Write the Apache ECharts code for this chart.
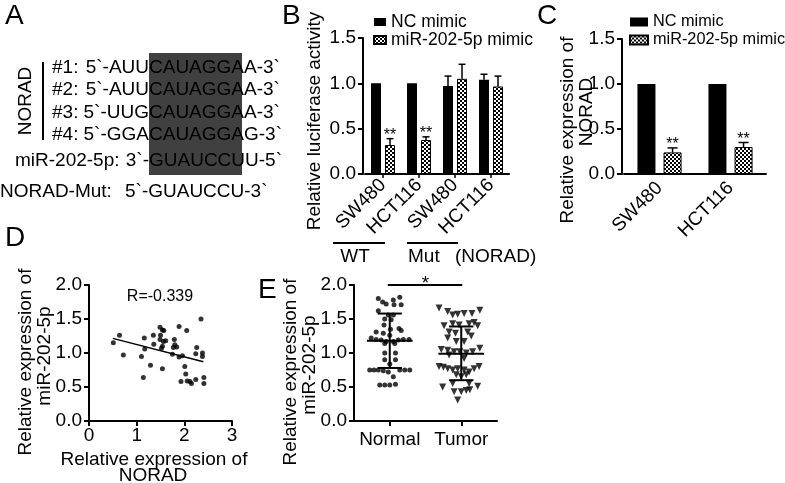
<!DOCTYPE html>
<html><head><meta charset="utf-8">
<script src="https://cdn.jsdelivr.net/npm/echarts@6/dist/echarts.min.js"></script>
<style>html,body{margin:0;padding:0;background:#fff}#c{width:785px;height:483px}</style>
</head><body><div id="c"></div>
<script>
// ---------------- DATA ----------------
// Panel A (sequence alignment)
const aRowLabels = ['#1:', '#2:', '#3:', '#4:', 'miR-202-5p:'];
const aSeqPre = ['5`-AUU', '5`-AUU', '5`-UUG', '5`-GGA', '3`-'];
const aSeqCore = ['CAUAGGA', 'CAUAGGA', 'CAUAGGA', 'CAUAGGA', 'GUAUCCU'];
const aSeqPost = ['A-3`', 'A-3`', 'A-3`', 'G-3`', 'U-5`'];
const aGroupLabel = 'NORAD';
const aMutLabel = 'NORAD-Mut:';
const aMutSeq = '5`-GUAUCCU-3`';

// Panel B (luciferase)
const bCategories = ['SW480', 'HCT116', 'SW480', 'HCT116'];
const bGroups = ['WT', 'Mut', '(NORAD)'];
const bNC = [1.0, 1.0, 0.97, 1.04];
const bNCErr = [0, 0, 0.11, 0.06];
const bMiR = [0.32, 0.375, 1.05, 0.965];
const bMiRErr = [0.07, 0.035, 0.16, 0.115];
const bSig = ['**', '**', '', ''];
const bYTicks = [0, 0.5, 1.0, 1.5];
const legendNames = ['NC mimic', 'miR-202-5p mimic'];

// Panel C (NORAD expression)
const cCategories = ['SW480', 'HCT116'];
const cNC = [1.0, 1.0];
const cMiR = [0.24, 0.30];
const cMiRErr = [0.05, 0.05];
const cSig = ['**', '**'];
const cYTicks = [0, 0.5, 1.0, 1.5];

// Panel D (correlation)
const dNORAD = [0.51,0.64,0.72,1.16,1.17,1.10,1.14,1.29,1.35,1.36,1.49,1.50,1.54,1.57,1.49,1.56,1.61,1.54,1.52,1.54,1.79,1.80,1.84,1.77,1.75,1.89,2.05,1.89,1.96,1.93,2.01,2.03,2.06,2.12,2.15,2.24,2.26,2.24,2.38,2.38,2.41,2.41,2.35];
const dMiR   = [1.15,1.26,0.97,1.22,1.06,0.95,0.64,0.82,1.26,1.13,1.38,1.26,1.34,1.33,1.20,1.17,1.18,1.10,1.07,0.77,1.20,1.12,1.09,1.08,0.98,1.39,1.33,0.94,0.96,0.58,0.80,0.69,0.59,0.58,0.55,0.61,1.08,0.99,1.00,0.95,0.64,0.55,1.50];
const dFitX = [0.5, 2.4];
const dFitY = [1.215, 0.87];
const dR = 'R=-0.339';
const dXTicks = [0, 1, 2, 3];
const dYTicks = [0, 0.5, 1.0, 1.5, 2.0];

// Panel E (dot plot)
const eCategories = ['Normal', 'Tumor'];
const eNormal = [1.80,1.75,1.72,1.78,1.82,1.71,1.71,1.62,1.56,1.56,1.50,1.49,1.41,1.35,1.36,1.33,1.31,1.29,1.26,1.22,1.20,1.19,1.17,1.17,1.19,1.20,1.20,1.14,1.14,1.00,1.00,0.90,0.90,0.84,0.75,0.75,0.75,0.74,0.72,0.75,0.75,0.75,0.65,0.53,0.53,0.53,0.54];
const eNormalSpread = [-0.16,-0.10,-0.05,0.05,0.14,0.16,0.06,-0.16,-0.02,0.05,-0.07,0.02,-0.08,0.01,0.13,0.16,-0.19,-0.09,0,-0.26,-0.19,-0.12,-0.05,0.05,0.12,0.19,0.27,-0.07,0.07,-0.07,0.08,-0.07,0.08,0,-0.28,-0.22,-0.16,-0.09,-0.02,0.14,0.21,0.28,0.05,-0.14,-0.07,0,0.08];
const eTumor = [1.66,1.61,1.56,1.57,1.58,1.58,1.63,1.40,1.43,1.41,1.43,1.45,1.40,1.31,1.29,1.31,1.25,1.22,1.17,1.17,1.05,1.04,1.02,1.02,1.00,1.02,1.07,0.97,0.92,0.80,0.79,0.77,0.75,0.77,0.75,0.72,0.77,0.80,0.68,0.65,0.68,0.50,0.55,0.55,0.51,0.43,0.43,0.45,0.46,0.31];
const eTumorSpread = [-0.31,-0.19,-0.12,-0.05,0.04,0.15,0.26,-0.24,-0.12,-0.03,0.11,0.18,0.23,-0.17,-0.08,0.09,0.14,-0.19,-0.07,0.04,-0.28,-0.19,-0.10,-0.02,0.07,0.16,0.26,-0.17,0.04,-0.31,-0.25,-0.19,-0.12,-0.05,0.04,0.11,0.18,0.25,-0.07,0,0.07,-0.26,-0.12,0.11,0.23,-0.10,0,0.07,0.12,-0.05];
const eMean = [1.18, 0.99];
const eSDHigh = [1.58, 1.39];
const eSDLow = [0.78, 0.60];
const eSig = '*';
const eYTicks = [0, 0.5, 1.0, 1.5, 2.0];

// ---------------- STYLE / HELPERS ----------------
const FONT = '"Liberation Sans", Arial, Helvetica, sans-serif';
const FS = 19;
const mctx = document.createElement('canvas').getContext('2d');
mctx.font = FS + 'px "Liberation Sans"';
const tw = s => mctx.measureText(s).width;

const pat = document.createElement('canvas');
pat.width = 4; pat.height = 4;
const pctx = pat.getContext('2d');
pctx.fillStyle = '#fff'; pctx.fillRect(0, 0, 4, 4);
pctx.fillStyle = '#000'; pctx.fillRect(0, 0, 2, 2); pctx.fillRect(2, 2, 2, 2);
const patternFill = { image: pat, repeat: 'repeat' };

const axisLineStyle = { color: '#000', width: 2 };
function valueAxis(gridIndex, ticks, extra) {
  return Object.assign({
    type: 'value', gridIndex, min: ticks[0], max: ticks[ticks.length - 1], interval: ticks[1] - ticks[0],
    axisLine: { show: true, lineStyle: axisLineStyle },
    axisTick: { show: true, length: 5, lineStyle: { color: '#000', width: 2 } },
    axisLabel: { color: '#000', fontSize: FS, fontFamily: FONT, margin: 7, formatter: v => v.toFixed(1) },
    splitLine: { show: false }
  }, extra || {});
}

function errSeries(xi, yi, vals, errs, sigs, side, barW, gapRatio, capHalf, sigSize) {
  return {
    type: 'custom', xAxisIndex: xi, yAxisIndex: yi, z: 5, silent: true,
    data: vals.map((v, i) => [i, v, errs[i]]),
    renderItem(params, api) {
      const i = api.value(0), v = api.value(1), e = api.value(2);
      const p = api.coord([i, v]);
      const t = api.coord([i, v + e]);
      const x = p[0] + side * barW * (1 + gapRatio) / 2;
      const kids = [];
      if (e > 0) {
        kids.push({ type: 'line', shape: { x1: x, y1: p[1], x2: x, y2: t[1] }, style: { stroke: '#000', lineWidth: 1.5 } });
        kids.push({ type: 'line', shape: { x1: x - capHalf, y1: t[1], x2: x + capHalf, y2: t[1] }, style: { stroke: '#000', lineWidth: 1.5 } });
      }
      const s = sigs[params.dataIndex];
      if (s) kids.push({ type: 'text', x: x, y: t[1] - 3, style: { text: s, align: 'center', verticalAlign: 'middle', fontSize: sigSize, fontFamily: FONT, fill: '#000' } });
      return { type: 'group', children: kids };
    }
  };
}

// ---------------- GRAPHIC (panel A, letters, titles) ----------------
const graphics = [];
function txt(x, y, s, opts) {
  graphics.push(Object.assign({ type: 'text', x, y, style: Object.assign({ text: s, fontSize: FS, fontFamily: FONT, fill: '#000', align: 'left', verticalAlign: 'middle' }, (opts && opts.style) || {}) }, opts && opts.rotation ? { rotation: opts.rotation } : {}));
}
// panel letters
[['A', 5, 16], ['B', 282, 16], ['C', 537, 16], ['D', 5, 238], ['E', 258, 290]].forEach(l => txt(l[1], l[2], l[0], { style: { fontSize: 28 } }));

// Panel A
const rowY = [68, 90, 113, 135, 161];
const labelX = [52, 52, 52, 52, 15];
const boxLeft = 149;
const coreW = tw(aSeqCore[0]);
graphics.push({ type: 'rect', shape: { x: boxLeft, y: 53, width: coreW - 2, height: 122 }, style: { fill: '#404040' }, z: -1 });
aRowLabels.forEach((lab, i) => {
  txt(labelX[i], rowY[i], lab);
  txt(boxLeft, rowY[i], aSeqPre[i], { style: { align: 'right' } });
  txt(boxLeft, rowY[i], aSeqCore[i]);
  txt(boxLeft + tw(aSeqCore[i]), rowY[i], aSeqPost[i]);
});
graphics.push({ type: 'line', shape: { x1: 43, y1: 62, x2: 43, y2: 140 }, style: { stroke: '#000', lineWidth: 2 } });
txt(26, 101, aGroupLabel, { rotation: Math.PI / 2, style: { align: 'center' } });
txt(0, 192, aMutLabel);
txt(125, 192, aMutSeq);

// Panel B group annotations
graphics.push({ type: 'line', shape: { x1: 333, y1: 243, x2: 385, y2: 243 }, style: { stroke: '#000', lineWidth: 2 } });
graphics.push({ type: 'line', shape: { x1: 407, y1: 243, x2: 458, y2: 243 }, style: { stroke: '#000', lineWidth: 2 } });
txt(355, 257, bGroups[0], { style: { align: 'center' } });
txt(408, 257, bGroups[1]);
txt(455, 257, bGroups[2]);

// Axis titles
txt(315, 121, 'Relative luciferase activity', { rotation: Math.PI / 2, style: { align: 'center' } });
txt(568, 130, 'Relative expression of', { rotation: Math.PI / 2, style: { align: 'center' } });
txt(587, 112, 'NORAD', { rotation: Math.PI / 2, style: { align: 'center' } });
txt(26, 362, 'Relative expression of', { rotation: Math.PI / 2, style: { align: 'center' } });
txt(45, 356, 'miR-202-5p', { rotation: Math.PI / 2, style: { align: 'center' } });
txt(291, 372, 'Relative expression of', { rotation: Math.PI / 2, style: { align: 'center' } });
txt(310, 365, 'miR-202-5p', { rotation: Math.PI / 2, style: { align: 'center' } });
txt(154, 460, 'Relative expression of', { style: { align: 'center' } });
txt(153, 476, 'NORAD', { style: { align: 'center' } });
txt(160, 297, dR, { style: { align: 'center', fontSize: 16 } });

// ---------------- OPTION ----------------
const option = {
  animation: false,
  backgroundColor: '#fff',
  textStyle: { fontFamily: FONT },
  grid: [
    { left: 365, top: 38, width: 144, height: 136 },
    { left: 624, top: 39, width: 142, height: 135 },
    { left: 89, top: 285, width: 143, height: 136 },
    { left: 354, top: 285, width: 143, height: 136 }
  ],
  legend: [
    { orient: 'vertical', left: 373, top: 13, padding: 0, itemGap: 0, itemWidth: 12, itemHeight: 8, icon: 'rect', selectedMode: false,
      data: legendNames, textStyle: { fontSize: 17.5, fontFamily: FONT, color: '#000', lineHeight: 16 } },
    { orient: 'vertical', left: 629, top: 13, padding: 0, itemGap: 0, itemWidth: 18, itemHeight: 9, icon: 'rect', selectedMode: false,
      data: legendNames, textStyle: { fontSize: 16.3, fontFamily: FONT, color: '#000', lineHeight: 18 } }
  ],
  xAxis: [
    { type: 'category', gridIndex: 0, data: bCategories, axisLine: { lineStyle: axisLineStyle },
      axisTick: { show: true, alignWithLabel: true, length: 4, lineStyle: { color: '#000', width: 1.5 } },
      axisLabel: { rotate: 45, interval: 0, color: '#000', fontSize: FS, fontFamily: FONT, margin: 8 } },
    { type: 'category', gridIndex: 1, data: cCategories, axisLine: { lineStyle: axisLineStyle },
      axisTick: { show: false },
      axisLabel: { rotate: 45, interval: 0, color: '#000', fontSize: FS, fontFamily: FONT, margin: 11 } },
    valueAxis(2, dXTicks, { axisLabel: { color: '#000', fontSize: FS, fontFamily: FONT, margin: 5 } }),
    { type: 'category', gridIndex: 3, data: eCategories, axisLine: { lineStyle: axisLineStyle },
      axisTick: { show: true, alignWithLabel: true, length: 5, lineStyle: { color: '#000', width: 2 } },
      axisLabel: { interval: 0, color: '#000', fontSize: FS, fontFamily: FONT, margin: 9 } },
    { type: 'value', gridIndex: 3, min: 0.5, max: 2.5, show: false }
  ],
  yAxis: [
    valueAxis(0, bYTicks, { offset: 2 }),
    valueAxis(1, cYTicks, { offset: 2 }),
    valueAxis(2, dYTicks),
    valueAxis(3, eYTicks)
  ],
  series: [
    // Panel B bars
    { name: legendNames[0], type: 'bar', xAxisIndex: 0, yAxisIndex: 0, data: bNC, barWidth: 10, barGap: '40%',
      itemStyle: { color: '#000' } },
    { name: legendNames[1], type: 'bar', xAxisIndex: 0, yAxisIndex: 0, data: bMiR, barWidth: 10, barGap: '40%',
      itemStyle: { color: patternFill, borderColor: '#000', borderWidth: 1 } },
    errSeries(0, 0, bNC, bNCErr, ['', '', '', ''], -1, 10, 0.4, 3.5, 16),
    errSeries(0, 0, bMiR, bMiRErr, bSig, 1, 10, 0.4, 3.5, 16),
    // Panel C bars
    { name: legendNames[0], type: 'bar', xAxisIndex: 1, yAxisIndex: 1, data: cNC, barWidth: 18, barGap: '45%',
      itemStyle: { color: '#000' } },
    { name: legendNames[1], type: 'bar', xAxisIndex: 1, yAxisIndex: 1, data: cMiR, barWidth: 18, barGap: '45%',
      itemStyle: { color: patternFill, borderColor: '#000', borderWidth: 1 } },
    errSeries(1, 1, cMiR, cMiRErr, cSig, 1, 18, 0.45, 5, 16),
    // Panel D scatter + fit
    { type: 'scatter', xAxisIndex: 2, yAxisIndex: 2, symbolSize: 5, itemStyle: { color: '#000' },
      data: dNORAD.map((x, i) => [x, dMiR[i]]) },
    { type: 'line', xAxisIndex: 2, yAxisIndex: 2, symbol: 'none', lineStyle: { color: '#000', width: 1.5 },
      data: dFitX.map((x, i) => [x, dFitY[i]]) },
    // Panel E dots
    { type: 'scatter', xAxisIndex: 4, yAxisIndex: 3, symbol: 'circle', symbolSize: 5, itemStyle: { color: '#000' },
      data: eNormal.map((v, i) => [1 + eNormalSpread[i], v]) },
    { type: 'scatter', xAxisIndex: 4, yAxisIndex: 3, symbol: 'triangle', symbolRotate: 180, symbolSize: 7, itemStyle: { color: '#000' },
      data: eTumor.map((v, i) => [2 + eTumorSpread[i], v]) },
    // Panel E mean +/- SD
    { type: 'custom', xAxisIndex: 4, yAxisIndex: 3, z: 6, silent: true,
      data: eMean.map((m, i) => [i + 1, m, eSDHigh[i], eSDLow[i]]),
      renderItem(params, api) {
        const x = api.value(0), m = api.value(1), hi = api.value(2), lo = api.value(3);
        const mw = 0.32, cw = 0.17;
        const L = (a, b) => ({ type: 'line', shape: { x1: a[0], y1: a[1], x2: b[0], y2: b[1] }, style: { stroke: '#000', lineWidth: 2 } });
        return { type: 'group', children: [
          L(api.coord([x - mw, m]), api.coord([x + mw, m])),
          L(api.coord([x, hi]), api.coord([x, lo])),
          L(api.coord([x - cw, hi]), api.coord([x + cw, hi])),
          L(api.coord([x - cw, lo]), api.coord([x + cw, lo]))
        ] };
      } },
    // Panel E significance bar
    { type: 'custom', xAxisIndex: 4, yAxisIndex: 3, z: 6, silent: true, clip: false,
      data: [[1, 2, eYTicks[eYTicks.length - 1]]],
      renderItem(params, api) {
        const a = api.coord([api.value(0), api.value(2)]);
        const b = api.coord([api.value(1), api.value(2)]);
        return { type: 'group', children: [
          { type: 'line', shape: { x1: a[0] - 2, y1: a[1], x2: b[0] + 1, y2: b[1] }, style: { stroke: '#000', lineWidth: 2 } },
          { type: 'text', x: (a[0] + b[0]) / 2, y: a[1] - 1, style: { text: eSig, align: 'center', verticalAlign: 'middle', fontSize: FS, fontFamily: FONT, fill: '#000' } }
        ] };
      } }
  ],
  graphic: graphics
};

const chart = echarts.init(document.getElementById('c'), null, { renderer: 'canvas', width: 785, height: 483 });
chart.setOption(option);
</script>
</body></html>
